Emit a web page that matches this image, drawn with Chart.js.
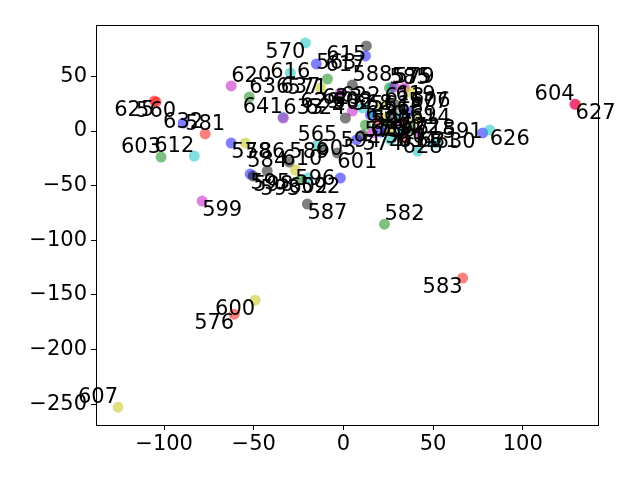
<!DOCTYPE html>
<html><head><meta charset="utf-8">
<script src="https://cdn.jsdelivr.net/npm/chart.js@4/dist/chart.umd.min.js"></script>
<style>html,body{margin:0;padding:0;background:#fff}#c{display:block}</style>
</head><body>
<div style="width:640px;height:480px"><canvas id="c" width="640" height="480"></canvas></div>
<script>
// ---- data ----
const pointLabels = [
  "560","625","632","581","603","612","620","636","641","633",
  "570","615","616","563","617","571","637","629","588","585",
  "575","579","613","606","591","626","630","634","604","627",
  "599","587","582","583","600","576","607","586","578","584",
  "595","598","589","596","602","593","592","601","565","610",
  "561","562","564","566","567","568","569","572","573","574",
  "577","580","590","594","597","605","608","609","611","614",
  "618","619","622","623","624","628","631","635"
];
const xValues = [
  -104.5,-105.5,-89.4,-77.1,-101.7,-83.2,-62.6,-52.5,-33.8,-33.5,
  -21.2,12.8,-29.6,-15.1,12.3,-8.9,-12.8,-1.7,5.0,25.7,
  27.0,28.5,34.1,37.4,77.7,81.6,51.4,41.3,129.0,129.5,
  -78.8,-20.1,22.9,66.5,-49.2,-60.9,-125.7,-54.7,-62.6,-42.5,
  -52.0,-50.3,-30.2,-26.8,-19.6,-24.0,-1.7,-3.4,-14.5,-11.7,
  15.1,16.2,19.6,22.3,25.1,27.4,29.6,31.8,34.1,10.6,
  36.3,23.5,26.3,20.7,16.2,7.3,5.0,12.3,30.7,37.4,
  40.2,29.1,20.7,10.6,1.1,33.0,41.9,26.3
];
const yValues = [
  26.6,27.5,7.3,-2.7,-23.8,-22.9,41.2,31.1,12.5,11.9,
  80.6,77.8,53.1,61.4,68.7,47.6,39.4,34.8,42.0,39.4,
  40.0,40.3,39.4,35.7,-1.8,0.9,-11.0,-18.3,24.7,24.3,
  -64.1,-66.8,-85.2,-134.6,-154.8,-167.6,-252.7,-11.0,-11.0,-36.6,
  -39.4,-41.2,-28.4,-35.7,-43.0,-44.9,-43.0,-20.1,-12.8,-17.4,
  14.7,16.5,10.1,11.9,8.2,15.6,5.5,11.9,8.2,-3.7,
  17.4,2.7,0.9,-0.9,-1.8,-8.2,18.3,5.5,-0.9,2.7,
  10.1,23.8,22.9,21.1,11.9,-6.4,-0.9,-8.2
];
const xTicks = [-100,-50,0,50,100];
const yTicks = [50,0,-50,-100,-150,-200,-250];

// ---- styles (separate from data) ----
const colorCodes = [
  "r","r","b","r","g","c","m","g","c","m",
  "c","k","c","b","b","g","y","m","k","g",
  "c","m","m","y","b","c","c","c","m","r",
  "m","k","g","r","y","r","y","y","b","k",
  "b","k","k","y","c","g","b","k","c","k",
  "b","c","r","y","g","k","m","c","r","k",
  "b","k","y","b","m","b","m","g","c","g",
  "y","k","y","c","k","r","m","c"
];
const labelAlign = [
  "ct","rt","cm","cb","rb","rb","lb","lb","rb","lb",
  "rt","rt","cm","lm","rt","rt","rm","rt","lb","lb",
  "lb","lb","ct","lt","rm","lt","lm","cb","rb","lt",
  "lt","lt","lb","rt","rt","rt","rb","lt","lt","cb",
  "lt","lt","lb","lt","ct","rt","rt","lt","cb","rt",
  "lb","rb","lt","lb","lt","rb","lb","lt","rt","lt",
  "lb","lt","cb","rt","lb","rt","cb","lb","lt","lb",
  "lt","lb","rb","rb","rb","lt","lt","cb"
];
const palette = {
  r:"rgba(255,0,0,0.5)", g:"rgba(0,128,0,0.5)", b:"rgba(0,0,255,0.5)",
  c:"rgba(0,191,191,0.5)", m:"rgba(191,0,191,0.5)", y:"rgba(191,191,0,0.5)",
  k:"rgba(0,0,0,0.5)"
};

const pts = xValues.map((x,i)=>({x:x, y:yValues[i]}));
const colors = colorCodes.map(c=>palette[c]);
const FONT = "DejaVu Sans";
const fmt = v => (v<0 ? "\u2212"+Math.abs(v) : String(v));

const labelPlugin = {
  id:"labels",
  afterDatasetsDraw(chart){
    const ctx = chart.ctx, xs = chart.scales.x, ys = chart.scales.y;
    ctx.save();
    ctx.font = "21px '"+FONT+"'";
    ctx.fillStyle = "#000";
    pointLabels.forEach((lab,i)=>{
      const px = xs.getPixelForValue(xValues[i]);
      const py = ys.getPixelForValue(yValues[i]);
      const a = labelAlign[i];
      ctx.textAlign = a[0]==="l" ? "left" : (a[0]==="r" ? "right" : "center");
      ctx.textBaseline = a[1]==="t" ? "top" : (a[1]==="b" ? "alphabetic" : "middle");
      let dy = 0;
      if (a[1]==="t") dy = -1;
      if (a[1]==="b") dy = -4;
      ctx.fillText(lab, px, py+dy);
    });
    const ca = chart.chartArea;
    ctx.strokeStyle = "#000"; ctx.lineWidth = 1;
    ctx.strokeRect(Math.round(ca.left)+0.5, Math.round(ca.top)+0.5, Math.round(ca.right-ca.left), Math.round(ca.bottom-ca.top));
    ctx.restore();
  }
};

new Chart(document.getElementById("c"), {
  type:"scatter",
  data:{ datasets:[{
    data: pts,
    backgroundColor: colors,
    borderColor: colors,
    borderWidth: 0,
    pointRadius: 5.5,
    pointHoverRadius: 5.5
  }]},
  options:{
    responsive:false, animation:false, devicePixelRatio:1,
    layout:{padding:{top:25,right:42,left:0,bottom:0}},
    plugins:{legend:{display:false}, tooltip:{enabled:false}},
    scales:{
      x:{
        type:"linear", min:-138, max:142,
        afterFit(s){ s.height = 55; },
        afterBuildTicks(s){ s.ticks = xTicks.map(v=>({value:v})); },
        grid:{display:true, drawOnChartArea:false, drawTicks:true, tickLength:5, color:"#000", tickColor:"#000"},
        border:{display:true, color:"#000", width:1},
        ticks:{color:"#000", font:{family:FONT, size:21}, padding:2, maxRotation:0, callback:v=>fmt(v)}
      },
      y:{
        type:"linear", min:-269, max:97,
        afterFit(s){ s.width = 96; },
        afterBuildTicks(s){ s.ticks = yTicks.map(v=>({value:v})); },
        grid:{display:true, drawOnChartArea:false, drawTicks:true, tickLength:5, color:"#000", tickColor:"#000"},
        border:{display:true, color:"#000", width:1},
        ticks:{color:"#000", font:{family:FONT, size:21}, padding:4, callback:v=>fmt(v)}
      }
    }
  },
  plugins:[labelPlugin]
});
</script>
</body></html>
